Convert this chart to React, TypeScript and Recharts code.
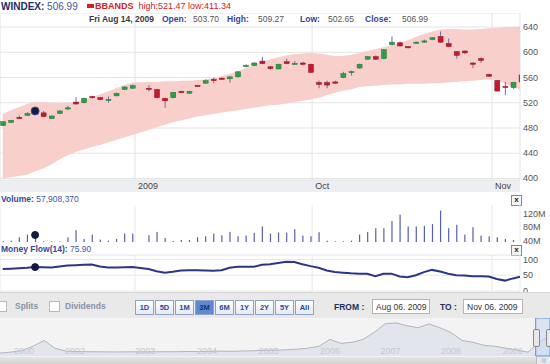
import React from 'react'
import {
  ComposedChart, Area, Bar, Line, LineChart, BarChart, AreaChart,
  XAxis, YAxis, CartesianGrid, ReferenceDot, ReferenceArea,
} from 'recharts'

const FONT = '"Liberation Sans", Arial, sans-serif'

// one slot per trading day, slot 17 has no session
const opens = [484, 489, 497, 500, 503.7, 504, 495, 503, 511, 521, 520, 530, 528, 525, 531, 541, 543, null,
  543, 541, 527, 528, 538, 535, 547.5, 551, 557, 559, 558, 561, 578, 579, 586, 577, 573.5, 585, 582, 583,
  581, 552, 552, 553, 560, 568.5, 575, 589, 593, 590, 612, 615, 609, 615, 616, 620, 625, 614, 601, 602,
  583, 590, 565, 555.5, 546, 544, 564]
const highs = [491, 493, 500, 505, 509.27, 507, 500, 508, 515, 529, 528, 531, 529, 530, 536, 546, 549, null,
  548, 542, 528, 537, 539, 539, 548, 557, 560, 560, 562, 570, 581, 584, 593, 578, 582, 590, 586, 585,
  582, 555, 555, 555, 569, 571, 582, 594, 595, 605, 625, 617, 610, 617, 620, 624, 633, 622, 602, 603,
  584, 592, 566, 556, 553, 553, 565]
const lows = [483, 488, 494, 499, 502.65, 497, 494, 502, 508, 517, 519, 526, 524, 520, 530, 540, 542, null,
  538, 527, 512, 527, 535, 534, 546, 550, 551, 556, 552, 560, 577, 578, 581, 572, 573, 581, 581, 579,
  567, 543, 543, 550, 559, 563, 574, 588, 588, 589, 611, 609, 606, 614, 615, 619, 615, 608, 590, 597,
  575, 583, 561, 538, 532, 542, 552]
const closes = [490, 492, 495, 503, 506.99, 498, 499, 507, 512, 518, 527, 528, 525, 525.5, 535, 545, 547, null,
  542.5, 528, 523, 536.5, 536, 538, 546.5, 555, 555, 557, 561, 569, 579, 583, 582, 574, 581, 582, 582.5, 581,
  568, 549, 548, 551, 566, 569.5, 581, 593, 589, 604, 616, 610, 607, 616, 618, 623, 616, 609, 595, 599,
  581, 587, 562, 538.5, 545, 552.5, 553]
const bandUpper = [502, 508, 513, 518, 521.47, 521, 520, 520, 520, 521, 525, 529, 533, 538, 543, 548, 552, null,
  553, 553, 554, 554, 555, 555, 556, 557, 559, 562, 566, 570, 575, 580, 585, 589, 592, 595, 597, 598,
  599, 598, 596, 594, 594, 596, 599, 602, 605, 608, 612, 615, 619, 624, 629, 633, 636, 637, 637, 636,
  636, 637, 638, 639, 640, 640, 641]
const bandLower = [400, 402, 404, 406, 411.34, 416, 422, 430, 437, 442, 446, 450, 453, 457, 461, 465, 469, null,
  477, 481, 485, 489, 492, 495, 498, 500, 502, 504, 506, 508, 510, 512, 514, 516, 517, 519, 521, 523,
  525, 528, 532, 536, 539, 541, 545, 546, 547, 548, 549, 549, 550, 550, 550, 551, 551, 552, 553, 554,
  555, 556, 557, 556, 550, 545, 540]
// volume in millions
const volumes = [40, 41, 51, 59, 57.9, 39, 39, 39, 51, 72, 46, 59, 44, 41, 46, 62, 62, null,
  57, 67, 49, 40, 43, 43, 51, 54, 62, 57, 67, 54, 56, 64, 83, 62, 65, 65, 75, 56,
  54, 66, 41, 39, 39, 41, 59, 67, 78, 78, 99, 118, 83, 83, 85, 90, 130, 78, 88, 59,
  81, 56, 54, 51, 46, 43, 45]
const moneyFlow = [70, 71, 72, 73.5, 75.9, 75.5, 75, 78, 81, 82, 83, 84, 78, 75, 75, 75.5, 76, null,
  70, 63, 58, 61, 65, 65.5, 66, 65, 64, 66, 74, 77, 77, 77, 83, 85, 89, 93, 92, 85,
  79, 74, 65, 60, 58, 56, 55, 54.5, 47, 55, 55, 46, 44, 50, 60, 67, 62, 55, 50, 49,
  47, 47, 46, 38, 33, 40, 46]

const HOVER = 4
const monthTicks = [16.33, 38.2, 60.4]
const monthLabels = ['2009', 'Oct', 'Nov']
const priceTicks = [400, 440, 480, 520, 560, 600, 640]
const volumeTicks = [40, 80, 120]
const flowTicks = [0, 50, 100]

// navigator overview, long history
const navLevels = [78, 104, 143, 260, 416, 208, 130, 117, 114, 112, 109, 109, 112, 109, 112, 114, 114, 120,
  117, 125, 130, 125, 133, 138, 151, 156, 164, 182, 208, 260, 442, 338, 364, 442, 624, 858, 884, 806,
  754, 858, 754, 624, 416, 364, 286, 260, 208, 156, 104, 364, 546]
const navYearTicks = [1.27, 5.9, 12.3, 17.9, 23.5, 29.1, 34.6, 40.1, 45.7]
const navYearLabels = ['2000', '2002', '2003', '2004', '2005', '2006', '2007', '2008', '2009']
const rangeButtons = ['1D', '5D', '1M', '3M', '6M', '1Y', '2Y', '5Y', 'All']

const days = opens.map((o, i) => ({
  slot: i,
  open: o, high: highs[i], low: lows[i], close: closes[i],
  range: o == null ? null : [lows[i], highs[i]],
  band: bandUpper[i] == null ? null : [bandLower[i], bandUpper[i]],
  volume: volumes[i],
  flow: moneyFlow[i],
}))
const nav = navLevels.map((v, i) => ({ i, v }))

const X_DOMAIN = [-0.333, 63.86]

function Candle(props: any) {
  const { x, y, width, height, payload } = props
  if (!payload || payload.open == null) return null
  const { open, close, high, low } = payload
  const top = Math.min(y, y + height)
  const h = Math.abs(height)
  const k = h / Math.max(high - low, 0.01)
  const cx = x + width / 2
  const up = close >= open
  const bodyTop = top + (high - Math.max(open, close)) * k
  const bodyH = Math.max(Math.abs(close - open) * k, 1.2)
  return (
    <g>
      <line x1={cx} x2={cx} y1={top} y2={top + h} stroke="#6b6fae" strokeWidth={1} />
      <rect x={x} y={bodyTop} width={width} height={bodyH}
        fill={up ? '#2e9e45' : '#c41a2e'} stroke={up ? '#1d7a33' : '#951225'} strokeWidth={0.5} />
    </g>
  )
}

function VolumeStick(props: any) {
  const { x, y, width, height, payload } = props
  if (!payload || payload.volume == null) return null
  return <rect x={x + width / 2 - 0.6} y={Math.min(y, y + height)} width={1.2}
    height={Math.max(Math.abs(height), 0.8)} fill="#5860a8" />
}

const rightTick = (fmt: (v: number) => string) => (p: any) => (
  <text x={p.x} y={p.y} dy={3} textAnchor="start" fontSize={9} fill="#555" fontFamily={FONT}>
    {fmt(p.payload.value)}
  </text>
)

const monthTick = (p: any) => (
  <text x={p.x + 3} y={p.y} dy={9} textAnchor="start" fontSize={9} fill="#444" fontFamily={FONT}>
    {monthLabels[monthTicks.indexOf(p.payload.value)]}
  </text>
)

const navTick = (p: any) => (
  <text x={p.x} y={p.y} dy={-2} textAnchor="start" fontSize={9} fill="#c4c8ce" fontFamily={FONT}>
    {navYearLabels[navYearTicks.indexOf(p.payload.value)]}
  </text>
)

const abs = (l: number, t: number, extra: React.CSSProperties = {}): React.CSSProperties =>
  ({ position: 'absolute', left: l, top: t, whiteSpace: 'nowrap', ...extra })

function CloseBox({ top }: { top: number }) {
  return (
    <div style={abs(511, top, {
      width: 9, height: 9, border: '1px solid #8a8a8a', background: '#f6f6f6',
      fontSize: 8, fontWeight: 'bold', lineHeight: '8px', textAlign: 'center', color: '#222',
    })}>x</div>
  )
}

export default function App() {
  const lbl = { fontWeight: 'bold', color: '#34489a' } as React.CSSProperties
  const val = { color: '#555' } as React.CSSProperties
  const quote = { fontSize: 8.5, lineHeight: '10px' } as React.CSSProperties
  return (
    <div style={{ position: 'absolute', left: 0, top: 0, width: 550, height: 364, overflow: 'hidden',
      background: '#fff', fontFamily: FONT, fontSize: 9 }}>
      {/* headline */}
      <div style={abs(1, 1, { fontSize: 10 })}>
        <span style={{ fontWeight: 'bold', color: '#1d2c6c' }}>WINDEX:</span>
        <span style={{ color: '#4456a0' }}> 506.99</span>
      </div>
      <div style={abs(87, 4, { width: 7, height: 4, background: '#d42020' })} />
      <div style={abs(95, 1, { fontSize: 9, color: '#d42020' })}>
        <span style={{ fontWeight: 'bold' }}>BBANDS</span>
        <span>&nbsp; high:521.47 low:411.34</span>
      </div>

      {/* date band under price pane */}
      <div style={abs(0, 180, { width: 520, height: 12, background: '#eceef1' })} />

      <div style={abs(0, 13)}>
        <ComposedChart width={550} height={179} data={days} margin={{ top: 0, right: 0, left: 0, bottom: 0 }}>
          <CartesianGrid stroke="#e4e4e4" />
          <XAxis dataKey="slot" type="number" domain={X_DOMAIN} allowDataOverflow ticks={monthTicks} interval={0}
            height={12} axisLine={false} tickLine={false} tickSize={0} tickMargin={0} tick={monthTick} />
          <YAxis orientation="right" width={30} domain={[397.6, 662.2]} allowDataOverflow ticks={priceTicks} interval={0}
            axisLine={false} tickLine={false} tickSize={0} tickMargin={3} tick={rightTick(v => String(v))} />
          <Area dataKey="band" fill="#f8cfcb" fillOpacity={1} stroke="none" connectNulls isAnimationActive={false} />
          <Bar dataKey="range" barSize={5} shape={(p: any) => <Candle {...p} />} isAnimationActive={false} />
          <ReferenceDot x={HOVER} y={closes[HOVER] as number} r={4} fill="#141a3c" stroke="#3d4c9c" strokeWidth={1} />
        </ComposedChart>
      </div>

      {/* quote of hovered session */}
      <div style={abs(89, 14, quote)}><span style={{ fontWeight: 'bold', color: '#3a3a3a' }}>Fri Aug 14, 2009</span></div>
      <div style={abs(162, 14, quote)}><span style={lbl}>Open:</span></div>
      <div style={abs(193, 14, quote)}><span style={val}>503.70</span></div>
      <div style={abs(227, 14, quote)}><span style={lbl}>High:</span></div>
      <div style={abs(258, 14, quote)}><span style={val}>509.27</span></div>
      <div style={abs(300, 14, quote)}><span style={lbl}>Low:</span></div>
      <div style={abs(328, 14, quote)}><span style={val}>502.65</span></div>
      <div style={abs(365, 14, quote)}><span style={lbl}>Close:</span></div>
      <div style={abs(402, 14, quote)}><span style={val}>506.99</span></div>

      {/* volume pane */}
      <div style={abs(1, 194, { fontSize: 8.5 })}>
        <span style={lbl}>Volume:</span><span style={{ color: '#4456a0' }}> 57,908,370</span>
      </div>
      <CloseBox top={195} />
      <div style={abs(0, 203)}>
        <BarChart width={550} height={44} data={days} margin={{ top: 2, right: 0, left: 0, bottom: 5 }}>
          <CartesianGrid stroke="#e8e8e8" horizontal={false} />
          <XAxis dataKey="slot" type="number" domain={X_DOMAIN} allowDataOverflow ticks={monthTicks} hide />
          <YAxis orientation="right" width={30} domain={[37, 146.7]} allowDataOverflow ticks={volumeTicks} interval={0}
            axisLine={false} tickLine={false} tickSize={0} tickMargin={3} tick={rightTick(v => `${v}M`)} />
          <Bar dataKey="volume" barSize={3} shape={(p: any) => <VolumeStick {...p} />} isAnimationActive={false} />
          <ReferenceDot x={HOVER} y={volumes[HOVER] as number} r={3.5} fill="#141a3c" stroke="#141a3c" />
        </BarChart>
      </div>

      {/* money flow pane */}
      <div style={abs(1, 244, { fontSize: 8.5 })}>
        <span style={lbl}>Money Flow(14):</span><span style={{ color: '#4456a0' }}> 75.90</span>
      </div>
      <CloseBox top={245} />
      <div style={abs(0, 253)}>
        <LineChart width={550} height={44} data={days} margin={{ top: 2, right: 0, left: 0, bottom: 6 }}>
          <CartesianGrid stroke="#e8e8e8" />
          <XAxis dataKey="slot" type="number" domain={X_DOMAIN} allowDataOverflow ticks={monthTicks} hide />
          <YAxis orientation="right" width={30} domain={[0, 114.3]} allowDataOverflow ticks={flowTicks} interval={0}
            axisLine={false} tickLine={false} tickSize={0} tickMargin={3} tick={rightTick(v => String(v))} />
          <Line dataKey="flow" stroke="#2b3686" strokeWidth={2} dot={false} connectNulls isAnimationActive={false} />
          <ReferenceDot x={HOVER} y={moneyFlow[HOVER] as number} r={3.5} fill="#141a3c" stroke="#141a3c" />
        </LineChart>
      </div>

      {/* range controls */}
      <div style={abs(0, 292, { width: 550, height: 26, background: '#e9e9e9', borderTop: '1px solid #d6d6d6' })} />
      <div style={abs(-4, 301, { width: 9, height: 9, border: '1px solid #b8b8b8', background: '#fff' })} />
      <div style={abs(15, 301, { fontWeight: 'bold', color: '#8792a8', fontSize: 8.5 })}>Splits</div>
      <div style={abs(49, 301, { width: 9, height: 9, border: '1px solid #b8b8b8', background: '#fff' })} />
      <div style={abs(65, 301, { fontWeight: 'bold', color: '#8792a8', fontSize: 8.5 })}>Dividends</div>
      <div style={abs(135, 300, { display: 'flex', gap: 1 })}>
        {rangeButtons.map(b => (
          <div key={b} style={{
            width: 17, height: 13, border: '1px solid #8fa3c9', textAlign: 'center', lineHeight: '13px',
            fontSize: 7.5, fontWeight: 'bold',
            background: b === '3M' ? '#5d8ad2' : 'linear-gradient(#ffffff,#e4e9f2)',
            color: b === '3M' ? '#16306e' : '#2a4a9c',
          }}>{b}</div>
        ))}
      </div>
      <div style={abs(334, 302, { fontWeight: 'bold', color: '#243060', fontSize: 8.5 })}>FROM :</div>
      <div style={abs(372, 299, { width: 58, height: 15, border: '1px solid #b4b4b4', background: '#fff',
        fontSize: 8.5, lineHeight: '14px', paddingLeft: 3, boxSizing: 'border-box', color: '#333' })}>Aug 06. 2009</div>
      <div style={abs(440, 302, { fontWeight: 'bold', color: '#243060', fontSize: 8.5 })}>TO :</div>
      <div style={abs(463, 299, { width: 60, height: 15, border: '1px solid #b4b4b4', background: '#fff',
        fontSize: 8.5, lineHeight: '14px', paddingLeft: 3, boxSizing: 'border-box', color: '#333' })}>Nov 06. 2009</div>

      {/* navigator */}
      <div style={abs(0, 318, { width: 550, height: 39, background: '#f3f3f3' })} />
      <div style={abs(0, 318)}>
        <AreaChart width={550} height={39} data={nav} margin={{ top: 0, right: 0, left: 0, bottom: 0 }}>
          <XAxis dataKey="i" type="number" domain={[0, 50]} ticks={navYearTicks} interval={0} height={1}
            axisLine={false} tickLine={false} tickSize={0} tickMargin={0} tick={navTick} />
          <YAxis hide domain={[0, 1014]} />
          <Area dataKey="v" fill="#e2e6ec" fillOpacity={1} stroke="#b0b5bf" strokeWidth={1} isAnimationActive={false} />
          <ReferenceArea x1={48.7} x2={50} fill="#c9d9f0" fillOpacity={0.6} stroke="#5b8fd6" />
        </AreaChart>
      </div>
      <div style={abs(533, 329, { width: 5, height: 16, border: '1px solid #888', borderRadius: 2, background: '#e8e8e8' })} />
      <div style={abs(546, 329, { width: 5, height: 16, border: '1px solid #888', borderRadius: 2, background: '#e8e8e8' })} />
      <div style={abs(0, 357, { width: 550, height: 7, background: 'linear-gradient(#e4e4e4,#d2d2d2)' })} />
      <div style={abs(536, 357, { width: 14, height: 7, background: '#eaeaea', borderLeft: '1px solid #bbb',
        fontSize: 6, color: '#999', lineHeight: '7px', textAlign: 'center' })}>|||</div>
    </div>
  )
}
